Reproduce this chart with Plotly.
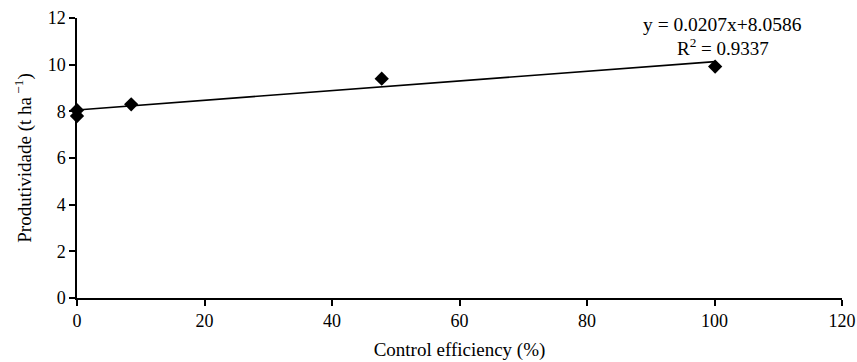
import plotly.graph_objects as go

x_vals = [0, 0, 8.5, 47.8, 100.1]
y_vals = [8.05, 7.8, 8.3, 9.4, 9.92]
slope = 0.0207
intercept = 8.0586
r2 = 0.9337
line_x = [0, 100.1]
line_y = [intercept + slope * v for v in line_x]
x_ticks = [0, 20, 40, 60, 80, 100, 120]
y_ticks = [0, 2, 4, 6, 8, 10, 12]

font_family = "Liberation Serif, Times New Roman, serif"

fig = go.Figure()
fig.add_trace(go.Scatter(x=line_x, y=line_y, mode="lines",
                         line=dict(color="black", width=1.6), showlegend=False))
fig.add_trace(go.Scatter(x=x_vals, y=y_vals, mode="markers",
                         marker=dict(symbol="diamond", size=11, color="black"),
                         showlegend=False))

fig.add_annotation(xref="x", yref="paper", x=101.3, y=0.978,
                   text=f"y = {slope}x+{intercept}",
                   showarrow=False, align="center", yanchor="middle",
                   font=dict(family=font_family, size=19.5, color="black"))
fig.add_annotation(xref="x", yref="paper", x=101.3, y=0.898,
                   text=f"R<sup>2</sup> = {r2}",
                   showarrow=False, align="center", yanchor="middle",
                   font=dict(family=font_family, size=19, color="black"))

fig.update_layout(
    width=857, height=362,
    margin=dict(l=77, r=15, t=18, b=64),
    plot_bgcolor="white", paper_bgcolor="white",
    font=dict(family=font_family, size=18, color="black"),
    xaxis=dict(range=[0, 120], tickvals=x_ticks, showgrid=False, zeroline=False,
               showline=True, linecolor="black", linewidth=1.5, automargin=False,
               ticks="outside", ticklen=6, tickcolor="black", tickwidth=1.5,
               title=dict(text="Control efficiency (%)", font=dict(size=19), standoff=12)),
    yaxis=dict(range=[0, 12], tickvals=y_ticks, showgrid=False, zeroline=False,
               showline=True, linecolor="black", linewidth=1.5, automargin=False,
               ticks="outside", ticklen=6, tickcolor="black", tickwidth=1.5,
               title=dict(text="Produtividade (t ha<sup> −1</sup>)", font=dict(size=19), standoff=11)),
)
fig.update_traces(cliponaxis=False)

fig.write_html("out.html", config={"displayModeBar": False},
               post_script="document.body.style.margin='0';document.body.style.overflow='hidden';window.dispatchEvent(new Event('resize'));")
